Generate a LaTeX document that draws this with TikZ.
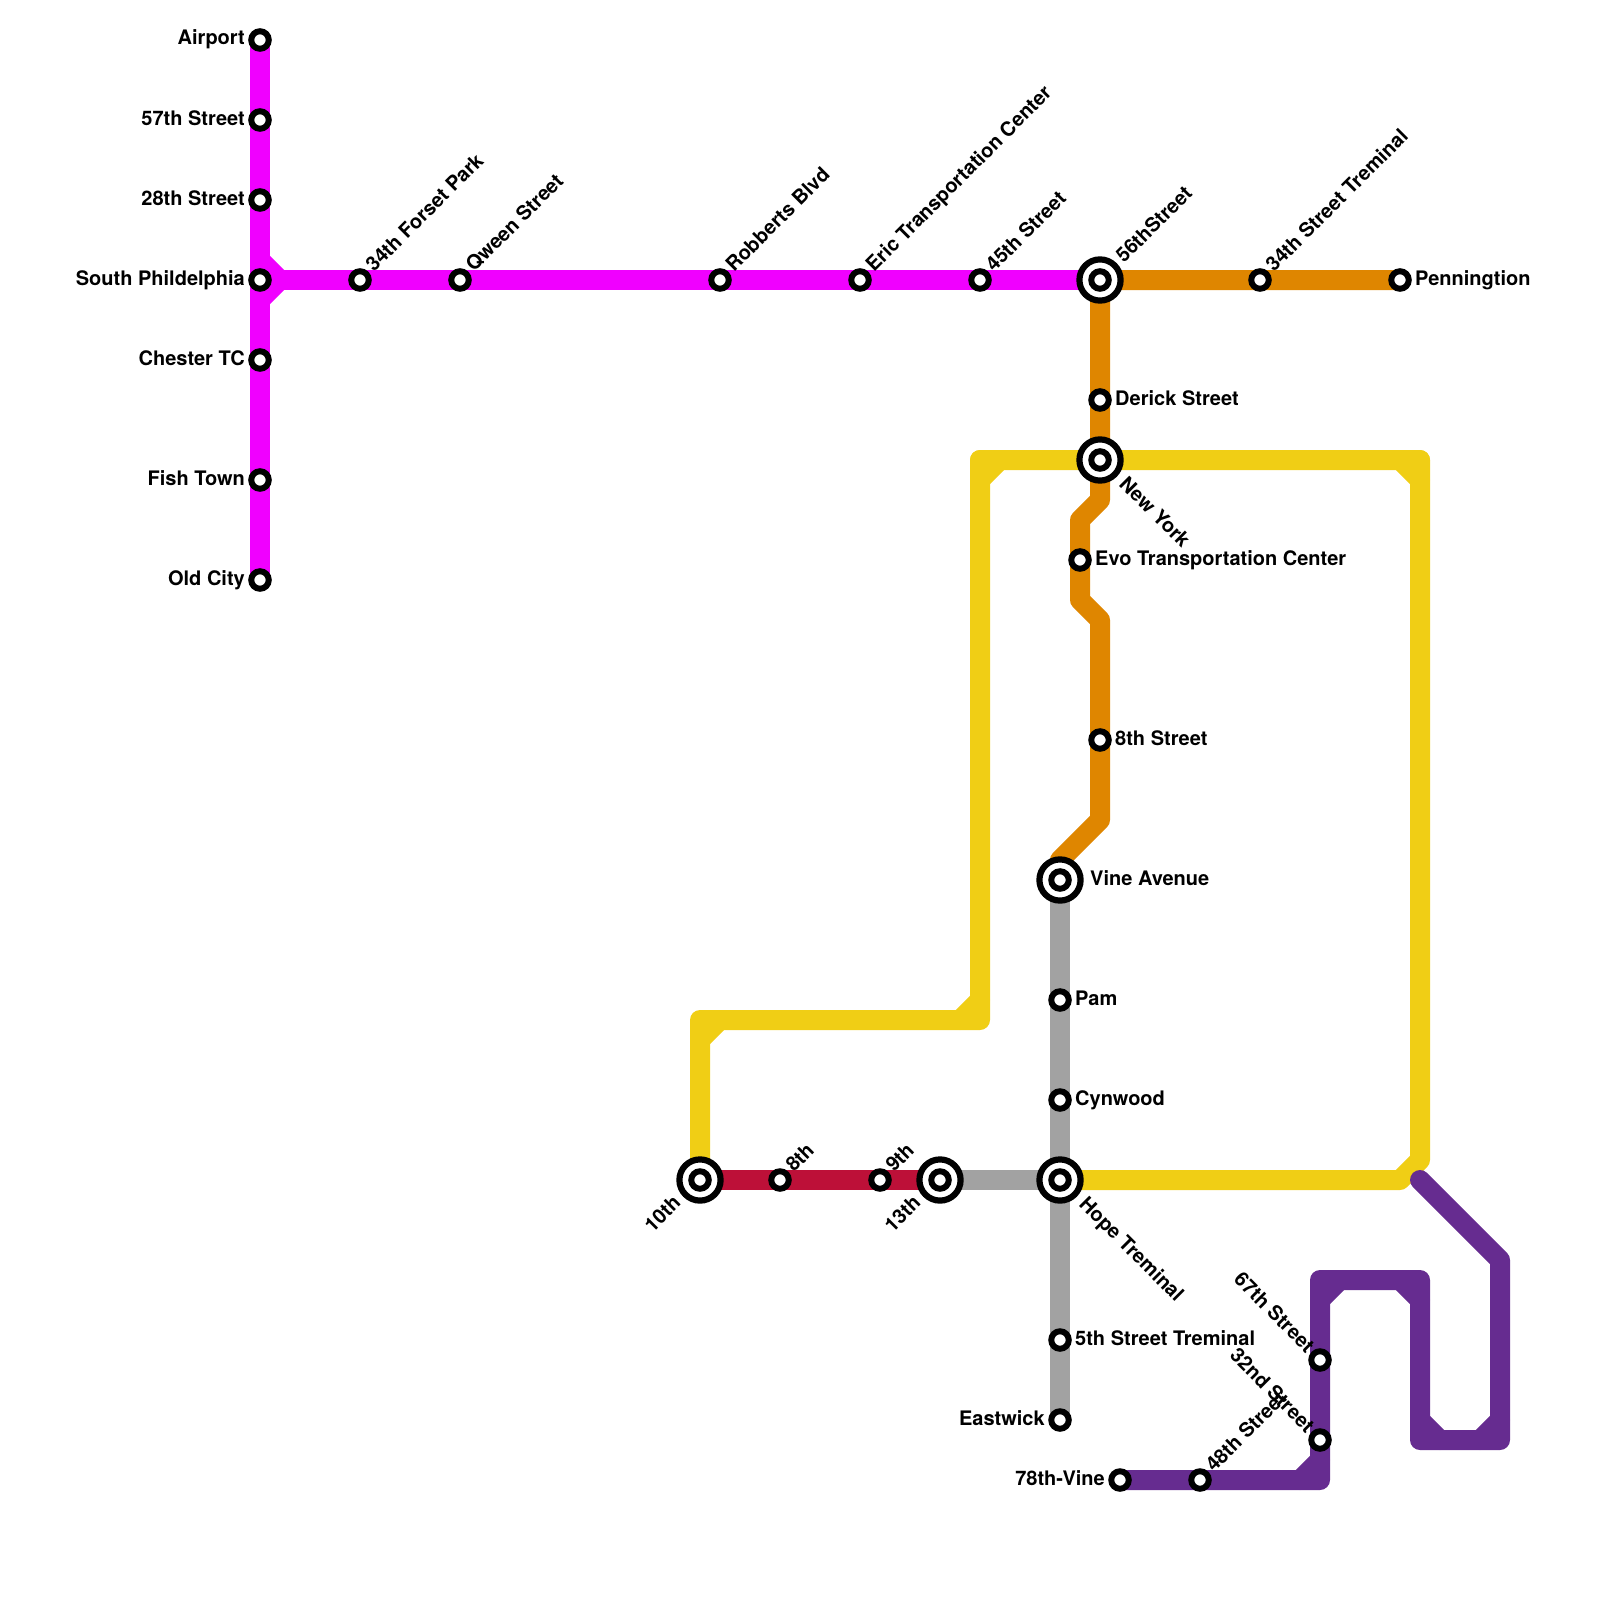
\documentclass[tikz,border=0pt]{standalone}
\usepackage{fontspec}
\setmainfont{TeX Gyre Heros}
\definecolor{cmag}{HTML}{F000FF}
\definecolor{corange}{HTML}{DF8600}
\definecolor{cyellow}{HTML}{F0CE15}
\definecolor{cred}{HTML}{BD1038}
\definecolor{cgrey}{HTML}{A2A2A2}
\definecolor{cpurple}{HTML}{662C90}
\tikzset{
  route/.style={line width=20pt,line join=round,line cap=round},
  routeb/.style={line width=20pt,line join=round,line cap=butt},
  stn/.style={circle,draw=black,fill=white,line width=6pt,minimum size=17.5pt,inner sep=0pt,outer sep=0pt},
  hub/.style={circle,draw=black,fill=white,line width=6.2pt,minimum size=41.2pt,inner sep=0pt,outer sep=0pt},
  lbl/.style={font=\bfseries\fontsize{20}{20}\selectfont,inner sep=0pt,text=black},
  lw/.style={lbl,anchor=base west},
  le/.style={lbl,anchor=base east},
  ur/.style={lbl,anchor=base west,rotate=45},
  dr/.style={lbl,anchor=base west,rotate=-45},
  ul/.style={lbl,anchor=base east,rotate=-45},
  dl/.style={lbl,anchor=base east,rotate=45}
}
\begin{document}
\begin{tikzpicture}[x=1pt,y=-1pt]
\useasboundingbox (0,0) rectangle (1600,1600);
% station positions
\coordinate (airport) at (260,40);
\coordinate (s57) at (260,120);
\coordinate (s28) at (260,200);
\coordinate (south) at (260,280);
\coordinate (chester) at (260,360);
\coordinate (fish) at (260,480);
\coordinate (oldcity) at (260,580);
\coordinate (s34f) at (360,280);
\coordinate (qween) at (460,280);
\coordinate (robert) at (720,280);
\coordinate (eric) at (860,280);
\coordinate (s45) at (980,280);
\coordinate (s56) at (1100,280);
\coordinate (s34t) at (1260,280);
\coordinate (penn) at (1400,280);
\coordinate (derick) at (1100,400);
\coordinate (newyork) at (1100,460);
\coordinate (evo) at (1080,560);
\coordinate (s8st) at (1100,740);
\coordinate (vine) at (1060,880);
\coordinate (pam) at (1060,1000);
\coordinate (cyn) at (1060,1100);
\coordinate (hope) at (1060,1180);
\coordinate (s5) at (1060,1340);
\coordinate (east) at (1060,1420);
\coordinate (s10) at (700,1180);
\coordinate (s8) at (780,1180);
\coordinate (s9) at (880,1180);
\coordinate (s13) at (940,1180);
\coordinate (s78) at (1120,1480);
\coordinate (s48) at (1200,1480);
\coordinate (s32) at (1320,1440);
\coordinate (s67) at (1320,1360);
% bends
\coordinate (ma) at (280,280);
\coordinate (mb) at (260,260);
\coordinate (mc) at (260,300);
\coordinate (oa) at (1100,500);
\coordinate (ob) at (1080,520);
\coordinate (oc) at (1080,600);
\coordinate (od) at (1100,620);
\coordinate (oe) at (1100,820);
\coordinate (of) at (1060,860);
\coordinate (ya) at (1420,460);
\coordinate (yb) at (1400,460);
\coordinate (yc) at (1420,480);
\coordinate (yd) at (1420,1160);
\coordinate (ye) at (1400,1180);
\coordinate (yf) at (980,460);
\coordinate (yg) at (1000,460);
\coordinate (yh) at (980,480);
\coordinate (yi) at (980,1020);
\coordinate (yj) at (980,1000);
\coordinate (yk) at (960,1020);
\coordinate (yl) at (700,1020);
\coordinate (ym) at (720,1020);
\coordinate (yn) at (700,1040);
\coordinate (pa) at (1420,1180);
\coordinate (pb) at (1500,1260);
\coordinate (pc) at (1500,1440);
\coordinate (pd) at (1420,1440);
\coordinate (pe) at (1420,1280);
\coordinate (pf) at (1320,1280);
\coordinate (pg) at (1320,1480);
\coordinate (ph) at (1500,1420);
\coordinate (pi) at (1480,1440);
\coordinate (pj) at (1420,1420);
\coordinate (pk) at (1440,1440);
\coordinate (pl) at (1420,1300);
\coordinate (pm) at (1400,1280);
\coordinate (pn) at (1320,1300);
\coordinate (po) at (1340,1280);
\coordinate (pp) at (1320,1460);
\coordinate (pq) at (1300,1480);
% routes
\draw[routeb,cgrey] (vine) -- (east);
\draw[routeb,cgrey] (s13) -- (hope);
\draw[routeb,cred] (s10) -- (s13);
\draw[route,cmag] (airport) -- (oldcity);
\draw[route,cmag] (south) -- (s56);
\draw[route,cmag] (mb) -- (ma) -- (mc);
\draw[route,cyellow] (hope) -- (ye) -- (yd) -- (ya) -- (yf) -- (yi) -- (yl) -- (s10);
\draw[route,cyellow] (yb) -- (yc);
\draw[route,cyellow] (yg) -- (yh);
\draw[route,cyellow] (yj) -- (yk);
\draw[route,cyellow] (ym) -- (yn);
\draw[route,corange] (penn) -- (s56) -- (oa) -- (ob) -- (oc) -- (od) -- (oe) -- (of) -- (vine);
\draw[route,cyellow] (newyork) -- (ya);
\draw[route,cyellow] (newyork) -- (yf);
\draw[route,cpurple] (pa) -- (pb) -- (pc) -- (pd) -- (pe) -- (pf) -- (pg) -- (s78);
\draw[route,cpurple] (ph) -- (pi);
\draw[route,cpurple] (pj) -- (pk);
\draw[route,cpurple] (pl) -- (pm);
\draw[route,cpurple] (pn) -- (po);
\draw[route,cpurple] (pp) -- (pq);
% stations
\foreach \n in {airport,s57,s28,south,chester,fish,oldcity,s34f,qween,robert,eric,s45,s34t,penn,derick,evo,s8st,pam,cyn,s5,east,s8,s9,s78,s48,s32,s67}
  \node[stn] (n-\n) at (\n) {};
\foreach \n in {s56,newyork,vine,hope,s10,s13}{
  \node[hub] (h-\n) at (\n) {};
  \node[stn] (n-\n) at (\n) {};
}
% labels
\node[le] (l1) at ([shift={(-15,5)}]airport) {Airport};
\node[le] (l2) at ([shift={(-15,5)}]s57) {57th Street};
\node[le] (l3) at ([shift={(-15,5)}]s28) {28th Street};
\node[le] (l4) at ([shift={(-15,5)}]south) {South Phildelphia};
\node[le] (l5) at ([shift={(-15,5)}]chester) {Chester TC};
\node[le] (l6) at ([shift={(-15,5)}]fish) {Fish Town};
\node[le] (l7) at ([shift={(-15,5)}]oldcity) {Old City};
\node[ur] (l8) at ([shift={(14,-7)}]s34f) {34th Forset Park};
\node[ur] (l9) at ([shift={(14,-7)}]qween) {Qween Street};
\node[ur] (l10) at ([shift={(14,-7)}]robert) {Robberts Blvd};
\node[ur] (l11) at ([shift={(14,-7)}]eric) {Eric Transportation Center};
\node[ur] (l12) at ([shift={(14,-7)}]s45) {45th Street};
\node[ur] (l13) at ([shift={(24,-16)}]s56) {56thStreet};
\node[ur] (l14) at ([shift={(14,-7)}]s34t) {34th Street Treminal};
\node[lw] (l15) at ([shift={(15,5)}]penn) {Penningtion};
\node[lw] (l16) at ([shift={(15,5)}]derick) {Derick Street};
\node[dr] (l17) at ([shift={(18,25)}]newyork) {New York};
\node[lw] (l18) at ([shift={(15,5)}]evo) {Evo Transportation Center};
\node[lw] (l19) at ([shift={(15,5)}]s8st) {8th Street};
\node[lw] (l20) at ([shift={(30,5)}]vine) {Vine Avenue};
\node[lw] (l21) at ([shift={(15,5)}]pam) {Pam};
\node[lw] (l22) at ([shift={(15,5)}]cyn) {Cynwood};
\node[dr] (l23) at ([shift={(18,25)}]hope) {Hope Treminal};
\node[lw] (l24) at ([shift={(15,5)}]s5) {5th Street Treminal};
\node[le] (l25) at ([shift={(-15,5)}]east) {Eastwick};
\node[ur] (l26) at ([shift={(14,-7)}]s8) {8th};
\node[ur] (l27) at ([shift={(14,-7)}]s9) {9th};
\node[dl] (l28) at ([shift={(-18,24)}]s10) {10th};
\node[dl] (l29) at ([shift={(-18,24)}]s13) {13th};
\node[le] (l30) at ([shift={(-15,5)}]s78) {78th-Vine};
\node[ur] (l31) at ([shift={(14,-7)}]s48) {48th Street};
\node[ul] (l32) at ([shift={(-14,-6)}]s32) {32nd Street};
\node[ul] (l33) at ([shift={(-14,-6)}]s67) {67th Street};
\end{tikzpicture}
\end{document}
